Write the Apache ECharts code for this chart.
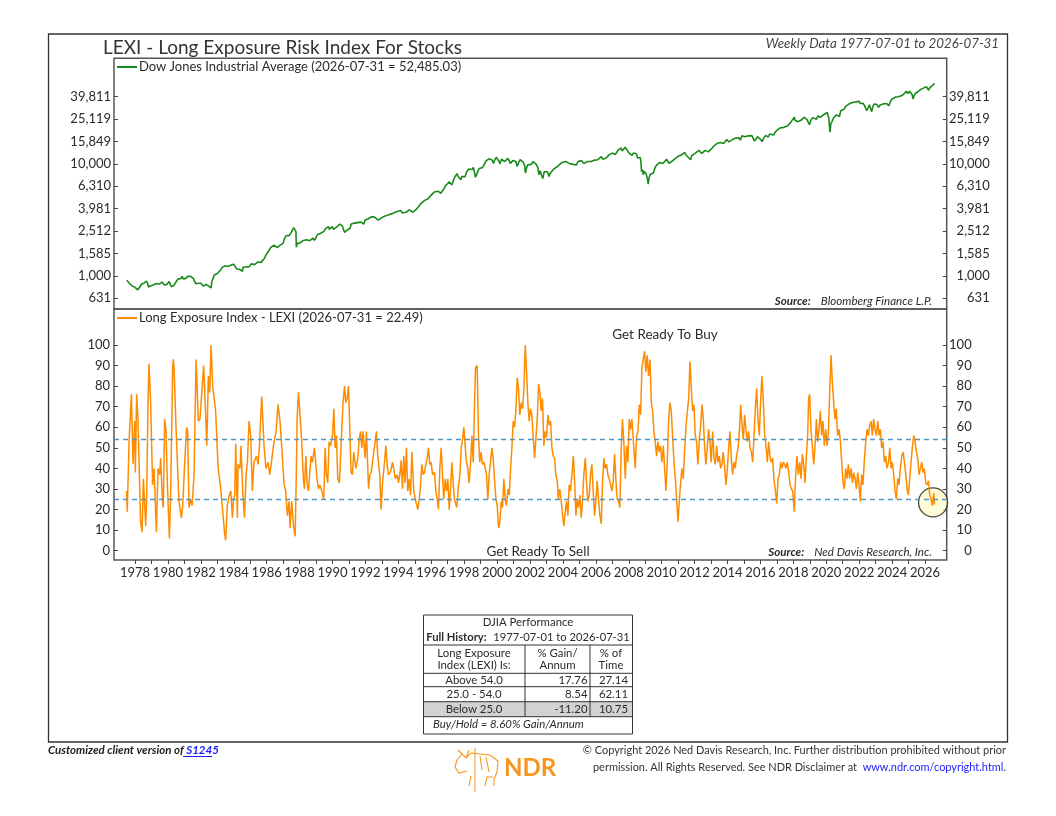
<!DOCTYPE html>
<html><head><meta charset="utf-8">
<script src="https://cdn.jsdelivr.net/npm/echarts@6/dist/echarts.min.js"></script>
<style>html,body{margin:0;padding:0;background:#fff}#c{width:1056px;height:816px}</style>
</head><body><div id="c"></div>
<script>
// ---------------- DATA ----------------
const djiaData = [[1977.50,915],[1977.58,890],[1977.66,860],[1977.75,845],[1977.83,810],[1977.92,825],[1978.00,790],[1978.08,765],[1978.16,750],[1978.22,760],[1978.30,795],[1978.38,840],[1978.46,830],[1978.54,860],[1978.62,885],[1978.70,900],[1978.76,860],[1978.82,795],[1978.88,810],[1978.96,815],[1979.04,840],[1979.12,830],[1979.20,860],[1979.30,855],[1979.40,840],[1979.48,845],[1979.56,860],[1979.64,880],[1979.72,880],[1979.78,830],[1979.84,810],[1979.92,835],[1980.00,860],[1980.08,890],[1980.14,900],[1980.20,800],[1980.26,780],[1980.34,815],[1980.42,850],[1980.50,880],[1980.60,935],[1980.70,940],[1980.80,950],[1980.86,990],[1980.94,940],[1981.00,960],[1981.10,950],[1981.20,990],[1981.30,1000],[1981.38,990],[1981.46,980],[1981.54,950],[1981.62,920],[1981.70,850],[1981.76,840],[1981.84,860],[1981.92,880],[1982.00,860],[1982.08,840],[1982.16,810],[1982.24,810],[1982.32,840],[1982.40,810],[1982.48,810],[1982.56,790],[1982.62,780],[1982.68,900],[1982.74,950],[1982.82,1020],[1982.90,1030],[1983.00,1050],[1983.10,1080],[1983.20,1130],[1983.30,1190],[1983.40,1220],[1983.48,1230],[1983.56,1200],[1983.64,1210],[1983.74,1240],[1983.84,1250],[1983.92,1260],[1984.00,1270],[1984.08,1230],[1984.16,1160],[1984.26,1160],[1984.36,1140],[1984.44,1110],[1984.52,1100],[1984.58,1200],[1984.66,1220],[1984.76,1200],[1984.86,1190],[1984.96,1210],[1985.06,1280],[1985.16,1280],[1985.26,1260],[1985.36,1290],[1985.46,1330],[1985.56,1340],[1985.66,1320],[1985.76,1350],[1985.86,1430],[1985.96,1540],[1986.06,1560],[1986.16,1700],[1986.24,1790],[1986.34,1790],[1986.44,1880],[1986.54,1850],[1986.64,1790],[1986.72,1820],[1986.82,1880],[1986.92,1930],[1987.00,1950],[1987.08,2150],[1987.18,2280],[1987.28,2290],[1987.38,2300],[1987.48,2420],[1987.56,2520],[1987.64,2700],[1987.72,2600],[1987.78,2480],[1987.80,1800],[1987.86,1950],[1987.94,1920],[1988.02,1960],[1988.12,2000],[1988.22,2070],[1988.32,2010],[1988.42,2100],[1988.52,2130],[1988.62,2060],[1988.72,2100],[1988.82,2170],[1988.90,2080],[1988.98,2170],[1989.08,2330],[1989.18,2300],[1989.28,2400],[1989.38,2470],[1989.48,2500],[1989.58,2650],[1989.68,2700],[1989.76,2750],[1989.80,2600],[1989.88,2660],[1989.98,2760],[1990.06,2600],[1990.14,2640],[1990.24,2720],[1990.34,2750],[1990.44,2900],[1990.54,2970],[1990.60,2800],[1990.66,2600],[1990.74,2450],[1990.80,2400],[1990.88,2560],[1990.96,2630],[1991.06,2650],[1991.14,2900],[1991.24,2940],[1991.34,2960],[1991.44,2950],[1991.54,2990],[1991.64,3010],[1991.74,3020],[1991.84,2930],[1991.90,2900],[1991.98,3160],[1992.08,3230],[1992.18,3240],[1992.28,3300],[1992.38,3380],[1992.48,3300],[1992.58,3330],[1992.68,3270],[1992.78,3150],[1992.88,3220],[1992.98,3300],[1993.10,3400],[1993.24,3450],[1993.38,3500],[1993.52,3560],[1993.66,3600],[1993.80,3700],[1993.94,3760],[1994.06,3900],[1994.14,3830],[1994.24,3650],[1994.34,3720],[1994.46,3700],[1994.58,3800],[1994.68,3890],[1994.78,3820],[1994.88,3700],[1994.98,3840],[1995.10,3950],[1995.22,4150],[1995.34,4370],[1995.46,4550],[1995.58,4700],[1995.70,4790],[1995.82,4900],[1995.94,5150],[1996.06,5300],[1996.18,5600],[1996.30,5580],[1996.42,5700],[1996.52,5500],[1996.58,5450],[1996.66,5700],[1996.76,5950],[1996.86,6350],[1996.96,6500],[1997.08,6900],[1997.18,7000],[1997.26,6500],[1997.36,7200],[1997.46,7750],[1997.56,8200],[1997.64,7700],[1997.72,8000],[1997.80,7200],[1997.86,7700],[1997.96,7900],[1998.06,7700],[1998.16,8550],[1998.28,9000],[1998.38,9100],[1998.48,8900],[1998.56,9300],[1998.62,8500],[1998.68,7600],[1998.76,8000],[1998.84,8700],[1998.92,9100],[1999.00,9200],[1999.12,9300],[1999.24,10000],[1999.34,10700],[1999.44,10600],[1999.54,11100],[1999.62,10700],[1999.70,10800],[1999.78,10100],[1999.86,10900],[1999.96,11450],[2000.04,11500],[2000.12,10500],[2000.18,10000],[2000.26,11000],[2000.36,10600],[2000.46,10500],[2000.58,10700],[2000.66,11200],[2000.74,10600],[2000.80,10100],[2000.88,10500],[2000.96,10700],[2001.04,10700],[2001.14,10500],[2001.22,9500],[2001.30,10200],[2001.40,10900],[2001.50,10500],[2001.60,10300],[2001.68,9600],[2001.72,8300],[2001.78,9100],[2001.86,9800],[2001.96,10100],[2002.08,9900],[2002.18,10500],[2002.28,10200],[2002.38,9900],[2002.48,9200],[2002.54,8000],[2002.62,8700],[2002.70,7900],[2002.78,7400],[2002.86,8500],[2002.96,8400],[2003.06,8500],[2003.16,7700],[2003.22,8200],[2003.32,8400],[2003.44,9000],[2003.56,9200],[2003.68,9500],[2003.80,9800],[2003.94,10300],[2004.06,10600],[2004.16,10500],[2004.28,10300],[2004.38,10100],[2004.50,10200],[2004.62,9900],[2004.72,10100],[2004.82,9800],[2004.92,10500],[2005.02,10700],[2005.14,10700],[2005.26,10100],[2005.38,10400],[2005.50,10500],[2005.62,10700],[2005.72,10500],[2005.80,10300],[2005.90,10800],[2006.00,10800],[2006.12,10900],[2006.24,11200],[2006.34,11600],[2006.42,11000],[2006.52,11100],[2006.62,11300],[2006.72,11700],[2006.82,12100],[2006.92,12400],[2007.04,12500],[2007.14,12700],[2007.18,12100],[2007.26,12400],[2007.36,13300],[2007.46,13500],[2007.54,13900],[2007.60,13000],[2007.68,13300],[2007.78,14100],[2007.84,13600],[2007.90,13300],[2007.98,13300],[2008.04,12400],[2008.12,12300],[2008.20,11900],[2008.28,12500],[2008.38,12900],[2008.46,12300],[2008.54,11300],[2008.62,11700],[2008.70,11400],[2008.74,10300],[2008.78,8500],[2008.84,8900],[2008.88,8000],[2008.94,8600],[2009.00,8800],[2009.06,8100],[2009.14,7300],[2009.18,6600],[2009.24,7600],[2009.32,8100],[2009.40,8400],[2009.50,8300],[2009.58,9100],[2009.68,9700],[2009.78,9900],[2009.88,10300],[2009.98,10500],[2010.08,10100],[2010.18,10500],[2010.30,11000],[2010.36,10600],[2010.44,10100],[2010.52,9700],[2010.60,10500],[2010.70,10700],[2010.80,11100],[2010.90,11300],[2011.00,11700],[2011.10,12100],[2011.20,12000],[2011.32,12500],[2011.40,12700],[2011.48,12000],[2011.56,12500],[2011.62,11400],[2011.70,11000],[2011.76,10900],[2011.82,11800],[2011.92,12000],[2012.04,12500],[2012.16,12900],[2012.26,13200],[2012.36,12900],[2012.44,12400],[2012.54,12800],[2012.64,13200],[2012.74,13500],[2012.84,12800],[2012.96,13100],[2013.06,13800],[2013.18,14500],[2013.30,14800],[2013.40,15300],[2013.48,14800],[2013.58,15500],[2013.66,14900],[2013.76,15200],[2013.86,15800],[2013.96,16500],[2014.08,15700],[2014.18,16300],[2014.30,16500],[2014.40,16700],[2014.50,17000],[2014.58,16500],[2014.68,17100],[2014.78,16300],[2014.88,17800],[2014.96,17800],[2015.04,17500],[2015.14,18000],[2015.26,17800],[2015.38,18200],[2015.48,17900],[2015.56,17700],[2015.64,16000],[2015.72,16300],[2015.82,17500],[2015.92,17700],[2016.02,16500],[2016.10,15800],[2016.20,17000],[2016.30,17900],[2016.40,17700],[2016.48,17400],[2016.56,18500],[2016.68,18200],[2016.80,18100],[2016.88,19000],[2016.98,19800],[2017.10,20000],[2017.18,20900],[2017.30,20600],[2017.42,21200],[2017.54,21600],[2017.64,21800],[2017.74,22700],[2017.84,23500],[2017.94,24700],[2018.06,26100],[2018.10,24500],[2018.18,24800],[2018.26,23800],[2018.36,24700],[2018.46,24500],[2018.56,25300],[2018.66,26000],[2018.76,26400],[2018.82,25000],[2018.90,25300],[2018.98,22400],[2019.06,24500],[2019.18,25900],[2019.30,26500],[2019.40,25000],[2019.50,26900],[2019.58,27200],[2019.64,26000],[2019.74,26800],[2019.84,27500],[2019.96,28500],[2020.06,28800],[2020.12,29300],[2020.16,25400],[2020.20,21000],[2020.23,19200],[2020.28,23000],[2020.36,24000],[2020.44,25700],[2020.52,25800],[2020.62,27400],[2020.70,28200],[2020.80,26500],[2020.88,29800],[2020.98,30600],[2021.08,30800],[2021.18,32600],[2021.30,33800],[2021.40,34400],[2021.50,34600],[2021.60,35400],[2021.70,34300],[2021.80,35800],[2021.90,34600],[2021.99,36300],[2022.06,34600],[2022.14,33800],[2022.24,34800],[2022.34,32800],[2022.40,31300],[2022.46,29900],[2022.56,32000],[2022.62,33700],[2022.70,31000],[2022.76,29300],[2022.84,32800],[2022.92,34300],[2022.98,33100],[2023.08,33900],[2023.18,32000],[2023.28,33600],[2023.40,33100],[2023.50,34400],[2023.58,35300],[2023.68,34500],[2023.80,33000],[2023.88,35300],[2023.96,37600],[2024.08,38100],[2024.20,39500],[2024.30,38000],[2024.38,39800],[2024.48,38800],[2024.56,40600],[2024.62,39500],[2024.70,41800],[2024.80,42300],[2024.86,44500],[2024.96,42500],[2025.06,44500],[2025.14,43500],[2025.22,41500],[2025.27,38000],[2025.32,40100],[2025.40,42300],[2025.50,44000],[2025.58,44300],[2025.66,45600],[2025.74,46300],[2025.82,46800],[2025.90,47500],[2026.00,48200],[2026.08,49000],[2026.16,48500],[2026.22,45500],[2026.30,48000],[2026.40,49500],[2026.48,50500],[2026.58,52485]];

const lexiData = [[1977.49,29],[1977.53,19],[1977.64,53],[1977.78,76],[1977.88,42],[1977.98,63],[1978.02,38],[1978.10,76],[1978.18,64],[1978.34,14],[1978.43,9],[1978.51,35],[1978.65,12],[1978.71,27],[1978.79,72],[1978.85,91],[1978.95,72],[1979.07,32],[1979.16,40],[1979.30,9],[1979.40,40],[1979.50,37],[1979.56,45],[1979.66,25],[1979.72,21],[1979.80,64],[1979.88,59],[1979.97,32],[1980.09,6],[1980.17,29],[1980.29,89],[1980.33,93],[1980.37,89],[1980.51,56],[1980.67,24],[1980.82,16],[1980.90,22],[1981.02,43],[1981.14,60],[1981.20,58],[1981.28,21],[1981.38,25],[1981.47,22],[1981.59,37],[1981.71,93],[1981.85,63],[1981.95,64],[1982.05,76],[1982.17,90],[1982.24,77],[1982.36,51],[1982.46,85],[1982.54,77],[1982.62,100],[1982.72,80],[1982.84,72],[1982.90,68],[1983.05,40],[1983.17,33],[1983.31,21],[1983.45,8],[1983.51,5],[1983.61,22],[1983.73,27],[1983.82,29],[1983.92,16],[1983.98,25],[1984.06,27],[1984.12,52],[1984.22,16],[1984.26,42],[1984.38,40],[1984.44,51],[1984.54,29],[1984.65,16],[1984.75,37],[1984.83,43],[1984.93,63],[1985.03,56],[1985.13,29],[1985.23,43],[1985.38,46],[1985.48,42],[1985.56,51],[1985.70,75],[1985.84,51],[1985.96,40],[1986.09,43],[1986.19,37],[1986.29,43],[1986.41,51],[1986.57,58],[1986.69,71],[1986.81,63],[1986.92,50],[1987.06,32],[1987.16,29],[1987.26,17],[1987.36,24],[1987.42,11],[1987.52,24],[1987.63,12],[1987.73,7],[1987.79,32],[1987.85,64],[1987.93,77],[1988.01,68],[1988.13,53],[1988.23,35],[1988.29,30],[1988.38,46],[1988.46,32],[1988.54,29],[1988.62,38],[1988.70,46],[1988.78,43],[1988.90,50],[1988.98,43],[1989.06,35],[1989.15,30],[1989.23,32],[1989.35,29],[1989.47,25],[1989.55,50],[1989.63,37],[1989.71,33],[1989.79,53],[1989.88,51],[1990.00,56],[1990.08,69],[1990.16,50],[1990.24,56],[1990.32,35],[1990.42,33],[1990.52,51],[1990.64,72],[1990.73,80],[1990.81,72],[1990.89,74],[1990.97,80],[1991.05,59],[1991.13,38],[1991.21,37],[1991.29,48],[1991.42,40],[1991.54,45],[1991.62,54],[1991.70,58],[1991.78,50],[1991.86,58],[1991.98,45],[1992.06,58],[1992.19,30],[1992.27,37],[1992.35,38],[1992.43,43],[1992.51,48],[1992.59,53],[1992.67,58],[1992.75,46],[1992.87,37],[1992.95,20],[1993.04,33],[1993.16,43],[1993.24,51],[1993.32,42],[1993.40,37],[1993.52,38],[1993.64,43],[1993.72,40],[1993.81,35],[1993.93,37],[1994.01,33],[1994.09,37],[1994.17,44],[1994.25,30],[1994.33,46],[1994.41,33],[1994.49,50],[1994.57,29],[1994.66,35],[1994.74,27],[1994.82,48],[1994.94,29],[1995.06,24],[1995.18,20],[1995.27,25],[1995.35,32],[1995.43,42],[1995.51,37],[1995.59,38],[1995.67,42],[1995.75,45],[1995.83,50],[1995.91,42],[1995.99,43],[1996.08,37],[1996.20,38],[1996.28,29],[1996.36,25],[1996.44,20],[1996.52,40],[1996.60,50],[1996.68,37],[1996.76,25],[1996.85,35],[1996.93,29],[1997.01,35],[1997.09,20],[1997.17,30],[1997.25,43],[1997.33,33],[1997.41,25],[1997.55,21],[1997.66,32],[1997.74,37],[1997.82,50],[1997.90,54],[1997.98,60],[1998.06,51],[1998.14,43],[1998.22,40],[1998.30,33],[1998.39,43],[1998.47,56],[1998.55,43],[1998.63,72],[1998.69,89],[1998.79,90],[1998.87,56],[1998.95,43],[1999.03,48],[1999.11,42],[1999.20,43],[1999.28,40],[1999.36,37],[1999.44,25],[1999.52,37],[1999.60,43],[1999.68,50],[1999.76,45],[1999.84,35],[1999.93,25],[2000.01,22],[2000.09,11],[2000.17,14],[2000.25,24],[2000.33,21],[2000.41,35],[2000.49,25],[2000.57,22],[2000.66,30],[2000.74,27],[2000.82,40],[2000.90,50],[2000.98,63],[2001.06,60],[2001.14,68],[2001.22,84],[2001.30,79],[2001.38,66],[2001.47,72],[2001.55,69],[2001.63,79],[2001.71,100],[2001.79,87],[2001.87,72],[2001.95,63],[2002.03,69],[2002.11,66],[2002.19,56],[2002.28,45],[2002.36,55],[2002.44,64],[2002.52,81],[2002.60,77],[2002.68,68],[2002.76,74],[2002.84,51],[2002.92,58],[2003.00,55],[2003.09,66],[2003.17,61],[2003.25,63],[2003.33,50],[2003.41,46],[2003.49,45],[2003.57,37],[2003.65,34],[2003.73,25],[2003.81,30],[2003.90,24],[2003.98,17],[2004.06,12],[2004.14,19],[2004.22,24],[2004.30,17],[2004.38,32],[2004.46,29],[2004.55,37],[2004.63,46],[2004.71,34],[2004.79,17],[2004.87,25],[2004.95,21],[2005.03,27],[2005.11,16],[2005.19,24],[2005.27,37],[2005.36,45],[2005.44,32],[2005.52,24],[2005.60,27],[2005.68,37],[2005.76,42],[2005.84,29],[2005.92,17],[2006.00,24],[2006.08,34],[2006.17,24],[2006.25,17],[2006.33,13],[2006.41,34],[2006.49,45],[2006.57,40],[2006.65,42],[2006.73,37],[2006.81,35],[2006.90,32],[2006.98,29],[2007.06,34],[2007.14,47],[2007.22,34],[2007.30,25],[2007.38,24],[2007.46,21],[2007.54,50],[2007.62,64],[2007.71,51],[2007.79,35],[2007.87,51],[2007.95,43],[2008.03,64],[2008.11,59],[2008.19,64],[2008.31,50],[2008.39,40],[2008.48,56],[2008.56,58],[2008.64,71],[2008.72,66],[2008.80,89],[2008.88,93],[2008.96,97],[2009.04,87],[2009.12,95],[2009.20,85],[2009.29,93],[2009.37,72],[2009.45,68],[2009.53,58],[2009.61,53],[2009.69,46],[2009.77,53],[2009.85,48],[2009.93,51],[2010.02,43],[2010.10,51],[2010.18,40],[2010.26,29],[2010.34,43],[2010.42,63],[2010.50,72],[2010.58,68],[2010.66,56],[2010.75,43],[2010.83,35],[2010.91,25],[2010.99,14],[2011.07,24],[2011.15,33],[2011.23,40],[2011.31,35],[2011.39,48],[2011.48,61],[2011.56,61],[2011.64,74],[2011.72,92],[2011.80,79],[2011.88,68],[2011.96,71],[2012.04,56],[2012.12,53],[2012.20,42],[2012.29,54],[2012.37,61],[2012.45,71],[2012.53,64],[2012.61,50],[2012.69,42],[2012.77,50],[2012.85,59],[2012.93,53],[2013.01,43],[2013.10,58],[2013.18,45],[2013.26,42],[2013.34,51],[2013.42,43],[2013.50,46],[2013.58,40],[2013.66,42],[2013.74,48],[2013.83,40],[2013.91,32],[2013.99,40],[2014.07,50],[2014.15,58],[2014.23,45],[2014.31,37],[2014.39,43],[2014.47,40],[2014.55,46],[2014.64,50],[2014.72,58],[2014.80,71],[2014.88,61],[2014.96,54],[2015.04,66],[2015.12,59],[2015.20,53],[2015.28,58],[2015.37,50],[2015.45,48],[2015.53,43],[2015.61,56],[2015.69,69],[2015.77,79],[2015.85,64],[2015.93,56],[2016.01,72],[2016.09,85],[2016.18,72],[2016.26,56],[2016.34,51],[2016.42,43],[2016.50,53],[2016.58,46],[2016.66,43],[2016.74,45],[2016.82,35],[2016.91,29],[2016.99,23],[2017.07,35],[2017.15,37],[2017.23,43],[2017.31,40],[2017.39,43],[2017.47,42],[2017.55,40],[2017.63,43],[2017.72,38],[2017.80,32],[2017.88,30],[2017.96,29],[2018.06,19],[2018.14,37],[2018.22,46],[2018.30,37],[2018.39,43],[2018.47,35],[2018.55,47],[2018.63,42],[2018.71,33],[2018.79,46],[2018.87,56],[2018.93,74],[2018.99,76],[2019.07,59],[2019.16,50],[2019.24,42],[2019.32,51],[2019.40,64],[2019.48,53],[2019.56,59],[2019.64,68],[2019.72,56],[2019.80,63],[2019.88,51],[2019.97,59],[2020.05,51],[2020.13,58],[2020.21,77],[2020.29,95],[2020.37,82],[2020.45,72],[2020.53,64],[2020.61,69],[2020.69,56],[2020.78,59],[2020.86,53],[2020.94,43],[2021.02,33],[2021.10,30],[2021.18,40],[2021.26,35],[2021.34,42],[2021.42,35],[2021.51,40],[2021.59,33],[2021.67,38],[2021.75,35],[2021.83,30],[2021.91,38],[2021.99,32],[2022.07,24],[2022.15,37],[2022.23,32],[2022.32,45],[2022.40,53],[2022.48,59],[2022.56,56],[2022.64,61],[2022.72,63],[2022.80,56],[2022.88,64],[2022.96,59],[2023.05,56],[2023.13,63],[2023.21,56],[2023.29,59],[2023.37,50],[2023.45,53],[2023.53,43],[2023.61,46],[2023.69,40],[2023.78,43],[2023.86,50],[2023.94,40],[2024.02,43],[2024.10,37],[2024.18,29],[2024.26,25],[2024.34,35],[2024.42,32],[2024.50,40],[2024.59,46],[2024.67,48],[2024.75,43],[2024.83,37],[2024.91,30],[2024.99,27],[2025.07,35],[2025.15,43],[2025.23,50],[2025.31,56],[2025.40,53],[2025.48,48],[2025.56,45],[2025.64,37],[2025.72,40],[2025.80,43],[2025.88,38],[2025.96,40],[2026.04,33],[2026.13,32],[2026.21,34],[2026.29,27],[2026.37,25],[2026.45,22],[2026.53,28],[2026.58,22.49]];

const djiaTicks = [631, 1000, 1585, 2512, 3981, 6310, 10000, 15849, 25119, 39811];
const lexiTicks = [0, 10, 20, 30, 40, 50, 60, 70, 80, 90, 100];
const yearTicks = [1978,1979,1980,1981,1982,1983,1984,1985,1986,1987,1988,1989,1990,1991,1992,1993,1994,1995,1996,1997,1998,1999,2000,2001,2002,2003,2004,2005,2006,2007,2008,2009,2010,2011,2012,2013,2014,2015,2016,2017,2018,2019,2020,2021,2022,2023,2024,2025,2026];
const yearLabels = [1978,1980,1982,1984,1986,1988,1990,1992,1994,1996,1998,2000,2002,2004,2006,2008,2010,2012,2014,2016,2018,2020,2022,2024,2026];
const thresholds = [54, 25];
const latestPoint = [[2026.49, 23.5]];
const latestDate = '2026-07-31';
const latestDjia = '52,485.03';
const latestLexi = '22.49';
const tableTitle = 'DJIA Performance';
const tableHistory = ['Full History:', '1977-07-01 to 2026-07-31'];
const tableHeaders = [['Long Exposure', 'Index (LEXI) Is:'], ['% Gain/', 'Annum'], ['% of', 'Time']];
const tableRows = [['Above 54.0', '17.76', '27.14'], ['25.0 - 54.0', '8.54', '62.11'], ['Below 25.0', '-11.20', '10.75']];
const buyHold = 'Buy/Hold = 8.60% Gain/Annum';

// ---------------- CHART ----------------
const FONT = 'Lato, "Noto Sans", sans-serif';
const TXT = '#2b2b2b';
const XMIN = 1976.724, XMAX = 2027.318;
const GL = 114, GR = 109.3;

const chart = echarts.init(document.getElementById('c'), null, {renderer: 'canvas'});

function yLog(pos, margin, align) {
  return {
    type: 'log', gridIndex: 0, position: pos, min: 506, max: 87700,
    axisLine: {show: false}, splitLine: {show: false},
    axisTick: {show: true, inside: true, length: 4, customValues: djiaTicks, lineStyle: {color: '#444', width: 1}},
    axisLabel: {customValues: djiaTicks, margin: margin, align: align, fontFamily: FONT, fontSize: 13, color: TXT,
      formatter: v => Math.round(v).toLocaleString('en-US')}
  };
}
function yLin(pos, margin, align) {
  return {
    type: 'value', gridIndex: 1, position: pos, min: -4.5, max: 117.5,
    axisLine: {show: false, onZero: false}, splitLine: {show: false},
    axisTick: {show: true, inside: true, length: 4, customValues: lexiTicks, lineStyle: {color: '#444', width: 1}},
    axisLabel: {customValues: lexiTicks, margin: margin, align: align, fontFamily: FONT, fontSize: 13, color: TXT,
      formatter: v => String(v)}
  };
}

const graphics = [];
graphics.push({type: 'rect', shape: {x: 48.5, y: 34, width: 959, height: 708}, style: {fill: 'none', stroke: '#333', lineWidth: 1.3}, z: 0});
graphics.push({type: 'text', x: 103, y: 47.5, style: {text: 'LEXI - Long Exposure Risk Index For Stocks', font: '19px ' + FONT, fill: '#333', verticalAlign: 'middle'}});
graphics.push({type: 'text', x: 999, y: 43.5, style: {text: 'Weekly Data 1977-07-01 to 2026-07-31', font: 'italic 13.3px ' + FONT, fill: '#444', align: 'right', verticalAlign: 'middle'}});
graphics.push({type: 'line', shape: {x1: 117, y1: 67, x2: 137, y2: 67}, style: {stroke: '#1a8a1a', lineWidth: 2}});
graphics.push({type: 'text', x: 139, y: 67, style: {text: 'Dow Jones Industrial Average (' + latestDate + ' = ' + latestDjia + ')', font: '13px ' + FONT, fill: TXT, verticalAlign: 'middle'}});
graphics.push({type: 'line', shape: {x1: 117, y1: 318, x2: 137, y2: 318}, style: {stroke: '#ff8c00', lineWidth: 2}});
graphics.push({type: 'text', x: 139, y: 318, style: {text: 'Long Exposure Index - LEXI (' + latestDate + ' = ' + latestLexi + ')', font: '13px ' + FONT, fill: TXT, verticalAlign: 'middle'}});
const srcRich = {b: {fontFamily: FONT, fontSize: 11.6, fontStyle: 'italic', fontWeight: 'bold', fill: TXT}, i: {fontFamily: FONT, fontSize: 11.6, fontStyle: 'italic', fill: TXT}};
graphics.push({type: 'text', x: 932, y: 301, style: {text: '{b|Source:}   {i|Bloomberg Finance L.P.}', rich: srcRich, align: 'right', verticalAlign: 'middle'}});
graphics.push({type: 'text', x: 932, y: 552, style: {text: '{b|Source:}   {i|Ned Davis Research, Inc.}', rich: srcRich, align: 'right', verticalAlign: 'middle'}});
graphics.push({type: 'text', x: 665, y: 334.5, style: {text: 'Get Ready To Buy', font: '13.5px ' + FONT, fill: TXT, align: 'center', verticalAlign: 'middle'}});
graphics.push({type: 'text', x: 538, y: 551.5, style: {text: 'Get Ready To Sell', font: '13.5px ' + FONT, fill: TXT, align: 'center', verticalAlign: 'middle'}});

// table
const T = {x0: 423.5, x1: 632.5, y0: 615, y1: 734, c1: 525, c2: 590};
const rowY = [673.3, 686.7, 701.7, 716.7];
graphics.push({type: 'rect', shape: {x: T.x0, y: rowY[2], width: T.x1 - T.x0, height: rowY[3] - rowY[2]}, style: {fill: '#d2d2d2'}});
graphics.push({type: 'rect', shape: {x: T.x0, y: T.y0, width: T.x1 - T.x0, height: T.y1 - T.y0}, style: {fill: 'none', stroke: '#333', lineWidth: 1}});
[645].concat(rowY).forEach(y => graphics.push({type: 'line', shape: {x1: T.x0, y1: y, x2: T.x1, y2: y}, style: {stroke: '#333', lineWidth: 1}}));
[T.c1, T.c2].forEach(x => graphics.push({type: 'line', shape: {x1: x, y1: 645, x2: x, y2: rowY[3]}, style: {stroke: '#333', lineWidth: 1}}));
const TFS = 11.4;
const tf = TFS + 'px ' + FONT;
graphics.push({type: 'text', x: 528, y: 622, style: {text: tableTitle, font: tf, fill: TXT, align: 'center', verticalAlign: 'middle'}});
graphics.push({type: 'text', x: 528, y: 637.5, style: {text: '{b|' + tableHistory[0] + '}  {n|' + tableHistory[1] + '}', rich: {b: {fontFamily: FONT, fontSize: 11.2, fontWeight: 'bold', fill: TXT}, n: {fontFamily: FONT, fontSize: 11.2, fill: TXT}}, align: 'center', verticalAlign: 'middle'}});
const colC = [474, 557.5, 611];
tableHeaders.forEach((h, i) => {
  graphics.push({type: 'text', x: colC[i], y: 653.5, style: {text: h[0], font: tf, fill: TXT, align: 'center', verticalAlign: 'middle'}});
  graphics.push({type: 'text', x: colC[i], y: 665.5, style: {text: h[1], font: tf, fill: TXT, align: 'center', verticalAlign: 'middle'}});
});
const rowC = [680, 694.3, 709.2];
tableRows.forEach((r, i) => {
  graphics.push({type: 'text', x: 474, y: rowC[i], style: {text: r[0], font: tf, fill: TXT, align: 'center', verticalAlign: 'middle'}});
  graphics.push({type: 'text', x: 587.5, y: rowC[i], style: {text: r[1], font: tf, fill: TXT, align: 'right', verticalAlign: 'middle'}});
  graphics.push({type: 'text', x: 628, y: rowC[i], style: {text: r[2], font: tf, fill: TXT, align: 'right', verticalAlign: 'middle'}});
});
graphics.push({type: 'text', x: 433, y: 724.8, style: {text: buyHold, font: 'italic ' + tf, fill: TXT, verticalAlign: 'middle'}});

// footer
graphics.push({type: 'text', x: 48, y: 750, scaleX: 0.96, originX: 0, style: {text: '{a|Customized client version of }{l|S1245}', rich: {a: {fontFamily: FONT, fontSize: 12, fontStyle: 'italic', fontWeight: 'bold', fill: '#222'}, l: {fontFamily: FONT, fontSize: 12, fontStyle: 'italic', fontWeight: 'bold', fill: '#1a1aff'}}, verticalAlign: 'middle'}});
graphics.push({type: 'line', shape: {x1: 183, y1: 756.5, x2: 212, y2: 756.5}, style: {stroke: '#1a1aff', lineWidth: 1}});
graphics.push({type: 'text', x: 1006, y: 750, scaleX: 0.913, originX: 0, style: {text: '\u00A9 Copyright 2026 Ned Davis Research, Inc. Further distribution prohibited without prior', font: '12px ' + FONT, fill: '#333', align: 'right', verticalAlign: 'middle'}});
graphics.push({type: 'text', x: 1006, y: 767, scaleX: 0.913, originX: 0, style: {text: '{a|permission. All Rights Reserved. See NDR Disclaimer at  }{l|www.ndr.com/copyright.html.}', rich: {a: {fontFamily: FONT, fontSize: 12, fill: '#333'}, l: {fontFamily: FONT, fontSize: 12, fill: '#1a1aff'}}, align: 'right', verticalAlign: 'middle'}});
// NDR logo (simple bull sketch)
const LOGO = '#f7941d';
graphics.push({type: 'line', shape: {x1: 475, y1: 748, x2: 475, y2: 792}, style: {stroke: LOGO, lineWidth: 1}});
[
  [[457,760],[462,754],[466,758],[471,753],[490,755],[498,761],[497,772],[494,779],[494,786]],
  [[493,777],[487,777],[485,786]],
  [[471,776],[469,786]],
  [[467,771],[459,773],[455,767],[457,760]],
  [[462,754],[458,750]],
  [[466,758],[469,750]],
  [[480,756],[482,770]],
  [[486,757],[489,772]]
].forEach(pts => graphics.push({type: 'polyline', shape: {points: pts}, style: {fill: 'none', stroke: LOGO, lineWidth: 1.1}}));
graphics.push({type: 'text', x: 504, y: 768, style: {text: 'NDR', font: 'bold 24px ' + FONT, fill: LOGO, verticalAlign: 'middle'}});

const option = {
  animation: false,
  backgroundColor: '#fff',
  grid: [
    {left: GL, right: GR, top: 58.3, height: 250.7, show: true, borderColor: '#555', borderWidth: 1.5, backgroundColor: 'transparent'},
    {left: GL, right: GR, top: 309, height: 251, show: true, borderColor: '#555', borderWidth: 1.5, backgroundColor: 'transparent'}
  ],
  xAxis: [
    {type: 'value', gridIndex: 0, min: XMIN, max: XMAX, axisLine: {show: false, onZero: false}, axisTick: {show: false}, axisLabel: {show: false}, splitLine: {show: false}},
    {type: 'value', gridIndex: 1, position: 'bottom', min: XMIN, max: XMAX, axisLine: {show: false, onZero: false}, splitLine: {show: false},
      axisTick: {show: true, length: 4, customValues: yearTicks, lineStyle: {color: '#444', width: 1}},
      axisLabel: {customValues: yearLabels, margin: 6, fontFamily: FONT, fontSize: 13, color: TXT, formatter: v => String(v)}}
  ],
  yAxis: [yLog('left', 3, 'right'), yLog('right', 43, 'right'), yLin('left', 4, 'right'), yLin('right', 25, 'right')],
  series: [
    {type: 'line', name: 'DJIA', xAxisIndex: 0, yAxisIndex: 0, data: djiaData, showSymbol: false, symbol: 'none',
      lineStyle: {color: '#1a8a1a', width: 1.6}, z: 3},
    {type: 'scatter', xAxisIndex: 1, yAxisIndex: 2, data: latestPoint, symbolSize: 29, clip: false,
      itemStyle: {color: '#fdfbc9', borderColor: '#1a1a1a', borderWidth: 1.3}, z: 2, silent: true},
    {type: 'line', name: 'LEXI', xAxisIndex: 1, yAxisIndex: 2, data: lexiData, showSymbol: false, symbol: 'none',
      lineStyle: {color: '#ff8c00', width: 1.5}, z: 3,
      markLine: {silent: true, symbol: 'none', label: {show: false}, animation: false,
        lineStyle: {color: '#4f97c6', type: [5, 4], width: 1.4},
        data: thresholds.map(v => ({yAxis: v}))}}
  ],
  graphic: graphics
};
chart.setOption(option);
</script></body></html>
